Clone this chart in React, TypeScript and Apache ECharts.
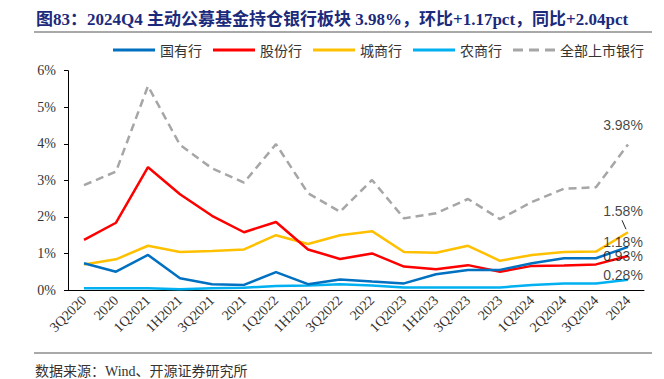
import React, { useEffect, useRef } from "react";
import * as echarts from "echarts";

const categories = ["3Q2020", "2020", "1Q2021", "1H2021", "3Q2021", "2021", "1Q2022", "1H2022", "3Q2022", "2022", "1Q2023", "1H2023", "3Q2023", "2023", "1Q2024", "2Q2024", "3Q2024", "2024"];
const stateOwned = [0.73, 0.50, 0.96, 0.32, 0.16, 0.14, 0.49, 0.16, 0.29, 0.23, 0.18, 0.43, 0.55, 0.55, 0.73, 0.87, 0.87, 1.18];
const jointStock = [1.37, 1.84, 3.36, 2.62, 2.03, 1.58, 1.86, 1.11, 0.85, 1.00, 0.64, 0.57, 0.68, 0.50, 0.66, 0.67, 0.70, 0.93];
const cityComm = [0.70, 0.84, 1.21, 1.04, 1.07, 1.11, 1.50, 1.26, 1.50, 1.61, 1.04, 1.02, 1.21, 0.80, 0.96, 1.04, 1.05, 1.58];
const ruralComm = [0.05, 0.05, 0.05, 0.02, 0.05, 0.06, 0.11, 0.12, 0.16, 0.12, 0.07, 0.07, 0.07, 0.07, 0.14, 0.18, 0.18, 0.28];
const allListed = [2.87, 3.24, 5.58, 3.97, 3.33, 2.94, 3.99, 2.65, 2.14, 3.01, 1.96, 2.10, 2.49, 1.94, 2.41, 2.77, 2.81, 3.98];
const seriesNames = ["国有行", "股份行", "城商行", "农商行", "全部上市银行"];
const yTicks = [0, 1, 2, 3, 4, 5, 6];

const titleText = "图83：2024Q4 主动公募基金持仓银行板块 3.98%，环比+1.17pct，同比+2.04pct";
const sourceText = "数据来源：Wind、开源证券研究所";

export default function App() {
  const ref = useRef<HTMLDivElement>(null);
  useEffect(() => {
    if (!ref.current) return;
    const chart = echarts.init(ref.current, undefined, { renderer: "svg" });
    const colors = ["#0070C0", "#FF0000", "#FFC000", "#00B0F0", "#A6A6A6"];
    const datasets = [stateOwned, jointStock, cityComm, ruralComm, allListed];
    const last = categories.length - 1;
    // label order: all, city, state, joint, rural
    const labelOrder = [4, 2, 0, 1, 3];
    const labelOffsets: Record<number, [number, number]> = {
      4: [-5, -20],
      2: [-5, -21],
      0: [-5, -5],
      1: [-5, 0],
      3: [-5, -5],
    };
    const serifFont = "'Liberation Serif', 'Times New Roman', 'Noto Sans CJK SC', serif";
    const solidIcon = "path://M0,0H42V3H0Z";
    const dashIcon = "path://M0,0H10V3H0Z M16,0H26V3H16Z M32,0H42V3H32Z";
    chart.setOption({
      animation: false,
      backgroundColor: "#ffffff",
      grid: { left: 68, right: 20, top: 70.7, bottom: 89, containLabel: false },
      legend: {
        data: seriesNames.map((n, i) => ({ name: n, icon: i === 4 ? dashIcon : solidIcon, itemStyle: { color: colors[i] } })),
        left: 108,
        top: 38,
        itemWidth: 42,
        itemHeight: 3,
        itemGap: 11,
        textStyle: { fontSize: 14, color: "#333", fontFamily: "'Noto Sans CJK SC', sans-serif" },
      },
      xAxis: {
        type: "category",
        data: categories,
        boundaryGap: true,
        axisLine: { lineStyle: { color: "#000", width: 1 } },
        axisTick: { inside: true, length: 5, lineStyle: { color: "#000" } },
        axisLabel: { rotate: 45, fontSize: 14, color: "#333", fontFamily: serifFont, margin: 8, interval: 0 },
      },
      yAxis: {
        type: "value",
        min: yTicks[0],
        max: yTicks[yTicks.length - 1],
        interval: 1,
        splitLine: { show: false },
        axisLine: { show: true, lineStyle: { color: "#000", width: 1 } },
        axisTick: { show: true, inside: false, length: 4, lineStyle: { color: "#000" } },
        axisLabel: { formatter: "{value}%", fontSize: 14, color: "#333", fontFamily: serifFont, margin: 12 },
      },
      series: [
        ...seriesNames.map((name, i) => ({
          name,
          type: "line",
          data: datasets[i],
          symbol: "none",
          z: i === 4 ? 1 : 5 - i + 2,
          lineStyle: {
            color: colors[i],
            width: 2.5,
            type: i === 4 ? [8, 5] : "solid",
          },
          itemStyle: { color: colors[i] },
        })),
        {
          name: "labels",
          type: "scatter",
          symbolSize: 0,
          z: 10,
          silent: true,
          data: labelOrder.map((si) => ({
            value: [last, datasets[si][last]],
            label: { offset: labelOffsets[si] },
          })),
          label: {
            show: true,
            position: "inside",
            formatter: (p: any) => p.value[1].toFixed(2) + "%",
            fontSize: 14,
            color: "#111",
            fontFamily: "'Liberation Sans', Arial, sans-serif",
          },
        },
      ],
      graphic: [
        {
          id: "title",
          type: "text",
          left: 36,
          top: 11,
          style: {
            text: titleText,
            fontSize: 17,
            fontWeight: "bold",
            fill: "#1B2A7B",
            fontFamily: serifFont,
          },
        },
        {
          id: "topRule",
          type: "line",
          shape: { x1: 34, y1: 32, x2: 652, y2: 32 },
          style: { stroke: "#8c8c8c", lineWidth: 1.5 },
        },
        {
          id: "bottomRule",
          type: "line",
          shape: { x1: 34, y1: 353, x2: 652, y2: 353 },
          style: { stroke: "#8c8c8c", lineWidth: 1.5 },
        },
        {
          id: "source",
          type: "text",
          left: 35,
          top: 364,
          style: {
            text: sourceText,
            fontSize: 14,
            fill: "#333",
            fontFamily: serifFont,
          },
        },
      ],
    });
    // leader line from the city commercial bank end point to its label
    try {
      const p = chart.convertToPixel({ gridIndex: 0 }, [last, cityComm[last]]) as number[];
      if (p && isFinite(p[0]) && isFinite(p[1])) {
        chart.setOption({
          graphic: [
            {
              id: "leader",
              type: "line",
              shape: { x1: p[0] - 2, y1: p[1] - 3, x2: p[0] - 6, y2: p[1] - 12 },
              style: { stroke: "#222", lineWidth: 1 },
              z: 20,
            },
          ],
        });
      }
    } catch (e) {
      // ignore
    }
    return () => chart.dispose();
  }, []);
  return <div ref={ref} style={{ position: "fixed", left: 0, top: 0, width: 664, height: 379 }} />;
}
